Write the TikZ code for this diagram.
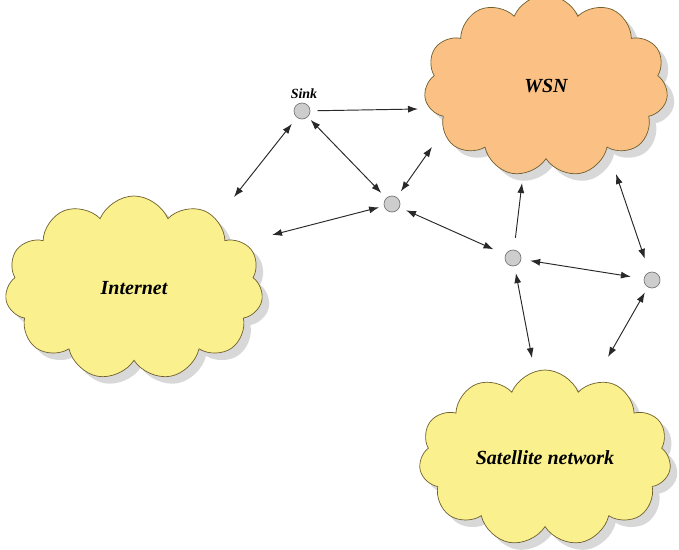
\documentclass[tikz,border=0pt]{standalone}
\usepackage{fontspec}
\setmainfont{Liberation Serif}
\usetikzlibrary{shapes.symbols,shadows,arrows.meta}
\definecolor{wsnfill}{RGB}{250,192,132}
\definecolor{yelfill}{RGB}{250,240,142}
\definecolor{cloudline}{RGB}{110,95,45}
\definecolor{nodefill}{RGB}{205,205,205}
\definecolor{nodeline}{RGB}{120,120,120}
\definecolor{arrcol}{RGB}{40,40,40}
\tikzset{
  netcloud/.style={cloud, cloud puffs=11, cloud puff arc=135, cloud ignores aspect,
    draw=cloudline, line width=0.7pt, inner sep=0pt,
    font=\fontsize{20}{24}\selectfont\bfseries\itshape,
    drop shadow={shadow xshift=7pt, shadow yshift=-7pt, fill=black!30}},
  relay/.style={circle, minimum size=16pt, inner sep=0pt, fill=nodefill, draw=nodeline, line width=0.7pt},
  arr/.style={draw=arrcol, line width=0.95pt, -{Latex[length=10pt,width=7pt]}},
  darr/.style={draw=arrcol, line width=0.95pt, {Latex[length=10pt,width=7pt]}-{Latex[length=10pt,width=7pt]}},
}
\begin{document}
\begin{tikzpicture}[x=1pt,y=-1pt]
\useasboundingbox (0,0) rectangle (679,549);
% clouds
\node[netcloud, fill=wsnfill, minimum width=244pt, minimum height=182pt] (wsn) at (546,86) {WSN};
\node[netcloud, fill=yelfill, minimum width=258pt, minimum height=184pt] (inet) at (134,288) {Internet};
\node[netcloud, fill=yelfill, minimum width=252pt, minimum height=176pt] (sat) at (545,458) {Satellite network};
% relay nodes
\node[relay] (sink) at (302,111) {};
\node[font=\fontsize{14}{16}\selectfont\bfseries\itshape] (sinklbl) at (304,94) {Sink};
\node[relay] (n2) at (392,204) {};
\node[relay] (n3) at (513,258) {};
\node[relay] (n4) at (652,280) {};
% free ends at clouds
\coordinate (wA) at (418,109);
\coordinate (wB) at (432,147);
\coordinate (wC) at (522,183);
\coordinate (wD) at (616,174);
\coordinate (iA) at (234,197);
\coordinate (iB) at (272,235);
\coordinate (sA) at (532,358);
\coordinate (sB) at (608,357);
% connectors
\draw[arr, shorten <=7pt] (sink) -- (wA);
\draw[darr, shorten <=8pt] (sink) -- (iA);
\draw[darr, shorten <=4pt, shorten >=7pt] (sink) -- (n2);
\draw[darr, shorten <=7pt] (n2) -- (wB);
\draw[darr, shorten <=5pt] (n2) -- (iB);
\draw[darr, shorten <=7pt, shorten >=13pt] (n2) -- (n3);
\draw[arr, shorten <=12pt] (n3) -- (wC);
\draw[darr, shorten <=9pt, shorten >=13pt] (n3) -- (n4);
\draw[darr, shorten >=14pt] (wD) -- (n4);
\draw[darr, shorten <=7pt] (n3) -- (sA);
\draw[darr, shorten <=6pt] (n4) -- (sB);
\end{tikzpicture}
\end{document}
